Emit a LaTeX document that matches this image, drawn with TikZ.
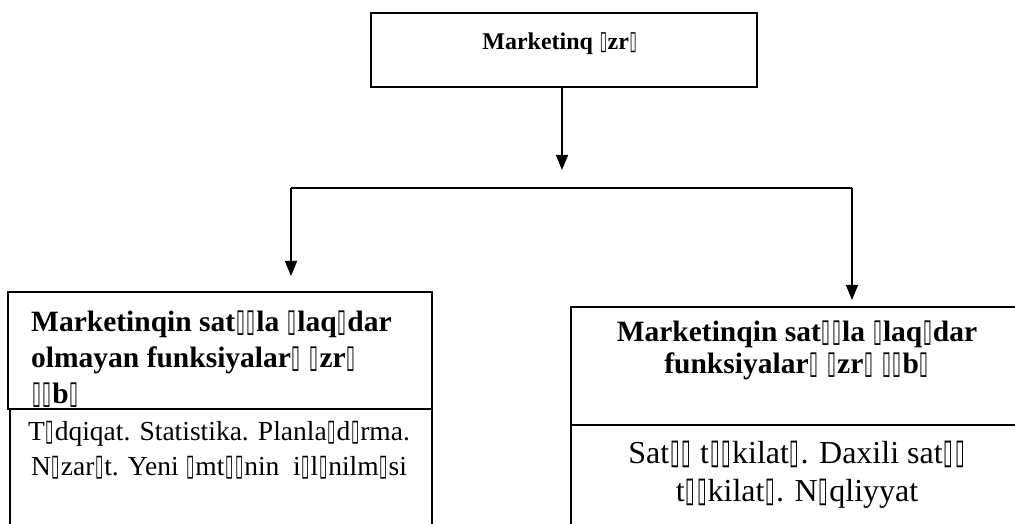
\documentclass[tikz,border=0pt]{standalone}
\usepackage{fontspec}
\setmainfont{Liberation Serif}
\newfontfamily\symfont{DejaVu Sans}
\usetikzlibrary{arrows.meta}
% placeholder glyph for letters the document font could not show
\newcommand\tf{\makebox[0.36em]{\symfont\resizebox{0.3em}{0.7em}{▯}}}
\tikzset{
  frame/.style={draw, line width=1.6pt, inner sep=0pt},
  link/.style={line width=1.3pt},
  arr/.style={link, -{Triangle[width=12pt,length=15pt]}},
  head/.style={font=\bfseries\fontsize{29.5}{36}\selectfont, inner sep=0pt},
  body/.style={font=\fontsize{27.5}{35}\selectfont, inner sep=0pt},
}
\begin{document}
\begin{tikzpicture}[x=1pt,y=1pt]
\useasboundingbox (0,0) rectangle (1015,524);
\clip (0,0) rectangle (1015,524);
% top department
\node[frame, minimum width=386pt, minimum height=74pt] (top) at (564,474) {};
\node[font=\bfseries\fontsize{24}{28}\selectfont, inner sep=0pt, anchor=base] (toptext) at (560,474) {Marketinq \tf zr\tf};
% branch points
\coordinate (tip) at (562,354);
\coordinate (lb) at (291,336);
\coordinate (rb) at (852,336);
\coordinate (ltip) at (291,248);
\coordinate (rtip) at (852,224);
\draw[arr] (top.south -| tip) -- (tip);
\draw[link] (ltip |- lb) -- (lb) -- (rb) -- (rtip |- rb);
\draw[arr] (lb) -- (ltip);
\draw[arr] (rb) -- (rtip);
% left department (multi-line texts are placed by the baseline of their last line);
% the lower frame is filled so that it hides whatever the header spills
\node[frame, minimum width=424pt, minimum height=117pt] (lhead) at (220,173.5) {};
\node[head, anchor=base west, align=left] (lheadtext) at (31,120)
  {Marketinqin sat\tf\tf la \tf laq\tf dar\\olmayan funksiyalar\tf{} \tf zr\tf\\\tf\tf b\tf};
\node[frame, fill=white, minimum width=422pt, minimum height=131pt] (lbody) at (221,49.5) {};
\node[body, anchor=base, align=center] (lbodytext) at (219,48)
  {T\tf dqiqat. Statistika. Planla\tf d\tf rma.\\N\tf zar\tf t. Yeni \tf mt\tf\tf nin\ \ i\tf l\tf nilm\tf si};
% right department
\node[frame, minimum width=452pt, minimum height=118pt] (rhead) at (797,158) {};
\node[frame, minimum width=452pt, minimum height=131pt] (rbody) at (797,33.5) {};
\node[head, font=\bfseries\fontsize{29.5}{32}\selectfont, anchor=base, align=center] (rheadtext) at (797,150)
  {Marketinqin sat\tf\tf la \tf laq\tf dar\\funksiyalar\tf{} \tf zr\tf{} \tf\tf b\tf};
\node[font=\fontsize{32}{38}\selectfont, inner sep=0pt, anchor=base, align=center] (rbodytext) at (797,22)
  {Sat\tf\tf{} t\tf\tf kilat\tf. Daxili sat\tf\tf\\t\tf\tf kilat\tf. N\tf qliyyat};
\end{tikzpicture}
\end{document}
